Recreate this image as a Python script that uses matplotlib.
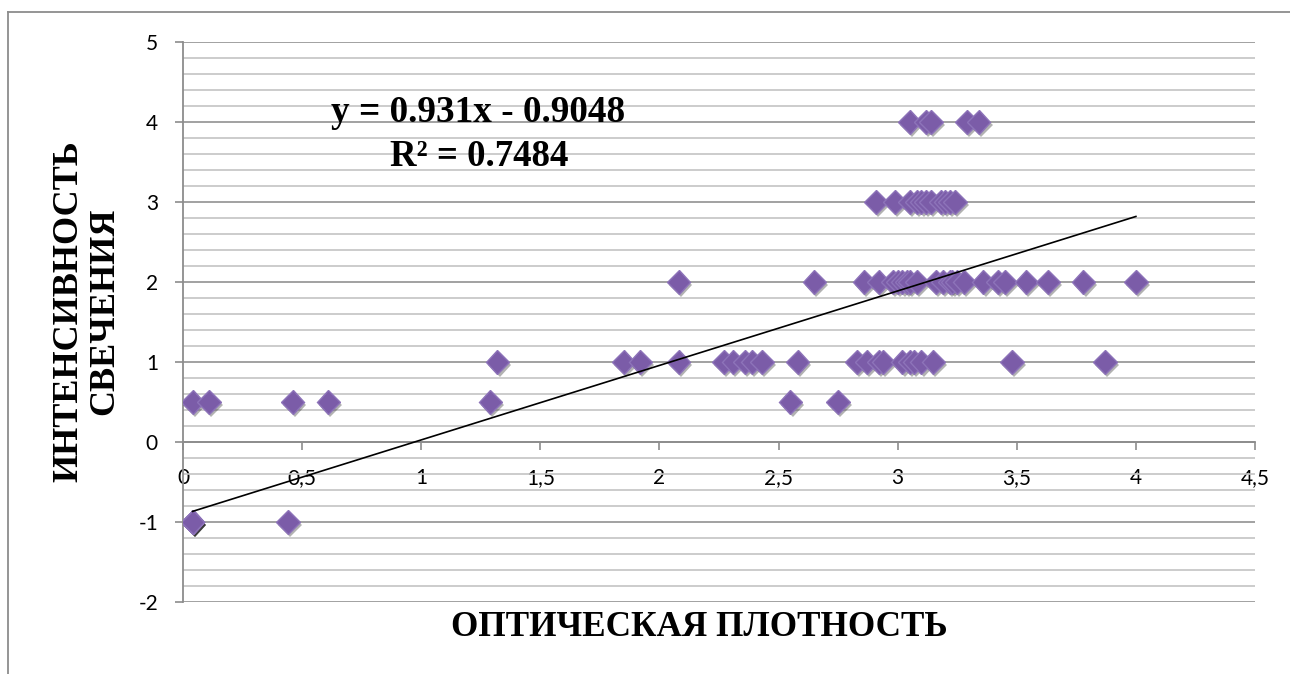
import matplotlib
matplotlib.use('Agg')
import matplotlib.pyplot as plt
import matplotlib.patheffects as pe
from matplotlib.lines import Line2D

# data: x values of the points on each y level
y_levels = [-1, 0.5, 1, 2, 3, 4]
x_neg1 = [0.04, 0.04, 0.04, 0.04, 0.44]
x_half = [0.04, 0.11, 0.46, 0.61, 1.29, 2.55, 2.75]
x_one = [1.32, 1.85, 1.92, 2.08, 2.27, 2.31, 2.36, 2.39, 2.43, 2.58, 2.83,
         2.87, 2.92, 2.94, 3.02, 3.05, 3.07, 3.10, 3.15, 3.48, 3.87]
x_two = [2.08, 2.65, 2.86, 2.92, 2.98, 3.00, 3.02, 3.04, 3.05, 3.08, 3.16,
         3.19, 3.22, 3.23, 3.25, 3.28, 3.36, 3.42, 3.45, 3.54, 3.63, 3.78, 4.0]
x_three = [2.91, 2.99, 3.05, 3.08, 3.10, 3.12, 3.14, 3.18, 3.20, 3.22, 3.24]
x_four = [3.05, 3.12, 3.14, 3.29, 3.34]

# trendline from the chart label
slope = 0.931
intercept = -0.9048
r2 = 0.7484

x_ticks = [0, 0.5, 1, 1.5, 2, 2.5, 3, 3.5, 4, 4.5]
x_tick_labels = ['0', '0,5', '1', '1,5', '2', '2,5', '3', '3,5', '4', '4,5']
y_ticks = [-2, -1, 0, 1, 2, 3, 4, 5]

W, H = 1290, 674
serif = ['Liberation Serif', 'DejaVu Serif']
plt.rcParams['axes.unicode_minus'] = False


def collect_points():
    xs = []
    ys = []
    for lvl, group in zip(y_levels, [x_neg1, x_half, x_one, x_two, x_three, x_four]):
        for x in group:
            xs.append(x)
            ys.append(lvl)
    return xs, ys


def plot_chart():
    xs, ys = collect_points()

    fig = plt.figure(figsize=(W / 100, H / 100), dpi=100)
    ax = fig.add_axes([183 / W, 1 - 602 / H, (1255 - 183) / W, (602 - 42) / H])

    # outer chart border (only top and left edges fall inside the picture)
    fig.lines.append(Line2D([8 / W, 1.0], [1 - 12 / H, 1 - 12 / H], transform=fig.transFigure,
                            color='#8c8c8c', linewidth=1.3))
    fig.lines.append(Line2D([8 / W, 8 / W], [1 - 12 / H, 0.0], transform=fig.transFigure,
                            color='#8c8c8c', linewidth=1.3))

    # grid
    ax.set_xlim(0, 4.5)
    ax.set_ylim(-2, 5)
    ax.set_yticks(y_ticks)
    ax.set_yticks([v / 5 for v in range(-10, 26)], minor=True)
    ax.grid(True, which='minor', axis='y', color='#c4c4c4', linewidth=1.2)
    ax.grid(True, which='major', axis='y', color='#9a9a9a', linewidth=1.3)
    ax.set_axisbelow(True)

    # spines
    for s in ['top', 'right']:
        ax.spines[s].set_visible(False)
    ax.spines['bottom'].set_position(('data', 0))
    ax.spines['bottom'].set_color('#8c8c8c')
    ax.spines['left'].set_color('#8c8c8c')
    ax.spines['bottom'].set_linewidth(1.3)
    ax.spines['left'].set_linewidth(1.3)

    ax.set_xticks(x_ticks)
    ax.set_xticklabels(x_tick_labels)
    ax.tick_params(axis='x', which='major', direction='out', length=6, width=1.2,
                   color='#8c8c8c', pad=13, labelsize=15)
    ax.tick_params(axis='y', which='major', direction='out', length=6, width=1.2,
                   color='#8c8c8c', pad=12, labelsize=15)
    ax.tick_params(axis='y', which='minor', length=0)
    for lab in ax.get_xticklabels() + ax.get_yticklabels():
        lab.set_family(['Lato', 'DejaVu Sans'])

    # trendline
    x0, x1 = min(xs), max(xs)
    ax.plot([x0, x1], [slope * x0 + intercept, slope * x1 + intercept],
            color='black', linewidth=1.2, zorder=4)

    # points
    ax.plot(xs, ys, linestyle='none', marker='D', markersize=12,
            markerfacecolor='#7b5ca8', markeredgecolor='#8d73b9',
            markeredgewidth=1.0, zorder=3,
            path_effects=[pe.SimplePatchShadow(offset=(1.5, -2.5), shadow_rgbFace='black', alpha=0.3),
                          pe.Normal()])

    # equation text
    fig.text(478 / W, 1 - 112 / H, 'y = 0.931x - 0.9048', ha='center', va='center',
             family=serif, fontweight='bold', fontsize=26.8)
    fig.text(479 / W, 1 - 156 / H, 'R² = %.4f' % r2, ha='center', va='center',
             family=serif, fontweight='bold', fontsize=26.5)

    # axis titles
    fig.text(699 / W, 1 - 628 / H, 'ОПТИЧЕСКАЯ ПЛОТНОСТЬ', ha='center', va='center',
             family=serif, fontweight='bold', fontsize=25.3)
    fig.text(87 / W, 1 - 311 / H, 'ИНТЕНСИВНОСТЬ\nСВЕЧЕНИЯ', ha='center', va='center',
             rotation=90, multialignment='center', linespacing=1.1,
             family=serif, fontweight='bold', fontsize=26)

    fig.savefig('out.png', dpi=100)


if __name__ == '__main__':
    plot_chart()
